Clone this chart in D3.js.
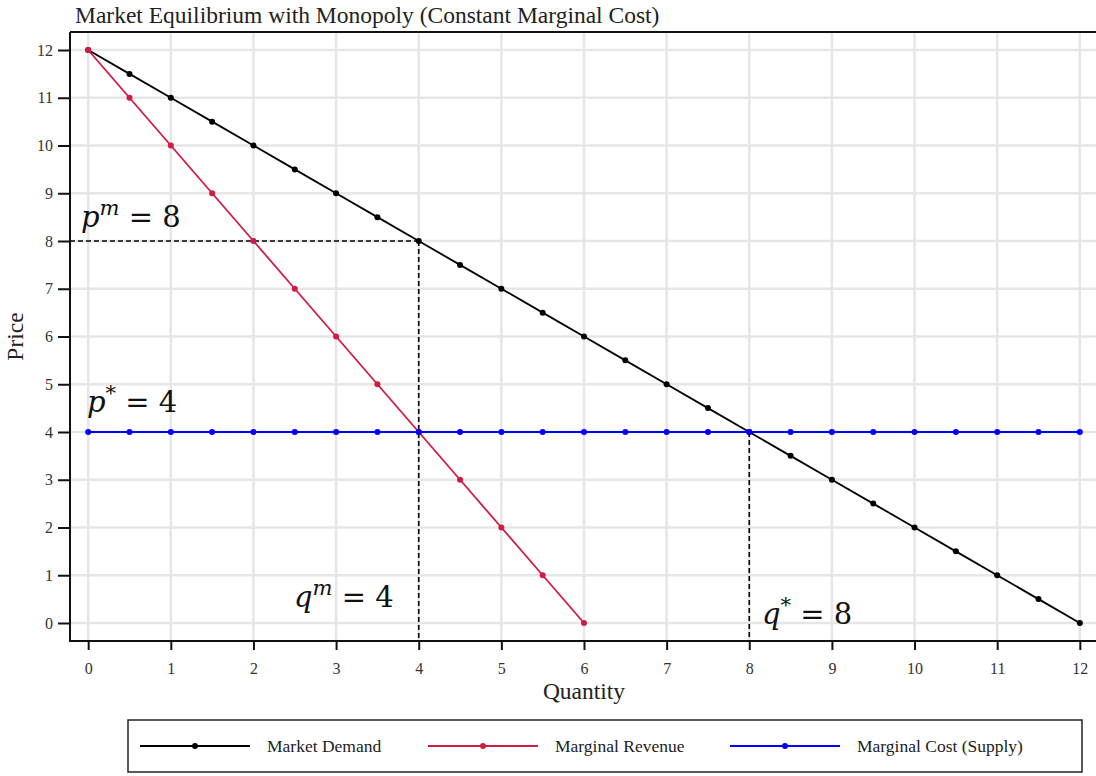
<!DOCTYPE html>
<html>
<head>
<meta charset="utf-8">
<script src="https://cdn.jsdelivr.net/npm/d3@7"></script>
<style>
  body { margin: 0; background: #fff; }
  text { font-family: "Liberation Serif", "Times New Roman", serif; }
</style>
</head>
<body>
<svg id="chart" width="1096" height="776"></svg>
<script>
// data
const quantity = [0, 0.5, 1, 1.5, 2, 2.5, 3, 3.5, 4, 4.5, 5, 5.5, 6, 6.5, 7, 7.5, 8, 8.5, 9, 9.5, 10, 10.5, 11, 11.5, 12];
const demand = [12, 11.5, 11, 10.5, 10, 9.5, 9, 8.5, 8, 7.5, 7, 6.5, 6, 5.5, 5, 4.5, 4, 3.5, 3, 2.5, 2, 1.5, 1, 0.5, 0];
const mrQuantity = [0, 0.5, 1, 1.5, 2, 2.5, 3, 3.5, 4, 4.5, 5, 5.5, 6];
const marginalRevenue = [12, 11, 10, 9, 8, 7, 6, 5, 4, 3, 2, 1, 0];
const marginalCost = [4, 4, 4, 4, 4, 4, 4, 4, 4, 4, 4, 4, 4, 4, 4, 4, 4, 4, 4, 4, 4, 4, 4, 4, 4];
const xTicks = [0, 1, 2, 3, 4, 5, 6, 7, 8, 9, 10, 11, 12];
const yTicks = [0, 1, 2, 3, 4, 5, 6, 7, 8, 9, 10, 11, 12];
const seriesNames = ["Market Demand", "Marginal Revenue", "Marginal Cost (Supply)"];
const seriesColors = ["#000000", "#d01c44", "#0000ff"];
const monopoly = { q: 4, p: 8 };
const competitive = { q: 8, p: 4 };

const svg = d3.select("#chart");
const plotLeft = 70, plotTop = 32, plotBottom = 641, plotRight = 1098;

const x = d3.scaleLinear().domain([-0.22, 12.22]).range([plotLeft, plotRight]);
const y = d3.scaleLinear().domain([-0.377, 12.377]).range([plotBottom, plotTop]);

// title
svg.append("text")
    .attr("x", 75).attr("y", 23)
    .style("font-size", "23.5px")
    .attr("fill", "#222")
    .text("Market Equilibrium with Monopoly (Constant Marginal Cost)");

// grid
let grid = svg.append("g");
grid.selectAll("line.v").data(xTicks).enter().append("line")
    .attr("class", "v")
    .attr("x1", d => x(d)).attr("x2", d => x(d))
    .attr("y1", plotTop).attr("y2", plotBottom)
    .style("stroke", "#e6e6e6").style("stroke-width", 2.5);
grid.selectAll("line.h").data(yTicks).enter().append("line")
    .attr("class", "h")
    .attr("x1", plotLeft).attr("x2", plotRight)
    .attr("y1", d => y(d)).attr("y2", d => y(d))
    .style("stroke", "#e6e6e6").style("stroke-width", 2.5);

// frame
svg.append("path")
    .attr("d", `M${plotLeft},${plotTop}H${plotRight}M${plotLeft},${plotTop}V${plotBottom}H${plotRight}`)
    .style("fill", "none").style("stroke", "#111").style("stroke-width", 2);

// axes
let xAxis = svg.append("g").attr("transform", `translate(0,${plotBottom})`)
    .call(d3.axisBottom(x).tickValues(xTicks).tickSize(9).tickPadding(13).tickFormat(d3.format("d")));
let yAxis = svg.append("g").attr("transform", `translate(${plotLeft},0)`)
    .call(d3.axisLeft(y).tickValues(yTicks).tickSize(12).tickPadding(5).tickFormat(d3.format("d")));
[xAxis, yAxis].forEach(a => {
    a.select(".domain").remove();
    a.selectAll(".tick line").style("stroke", "#111").style("stroke-width", 2);
    a.selectAll(".tick text").style("font-size", "16px").attr("fill", "#333")
        .style("font-family", "'Liberation Serif', serif");
});

svg.append("text")
    .attr("x", x(6)).attr("y", 699)
    .attr("text-anchor", "middle")
    .style("font-size", "23.5px").attr("fill", "#222")
    .text("Quantity");
svg.append("text")
    .attr("transform", `translate(23,${y(6)}) rotate(-90)`)
    .attr("text-anchor", "middle")
    .style("font-size", "23.5px").attr("fill", "#222")
    .text("Price");

// dashed guide lines
let dash = svg.append("g").style("stroke", "#000").style("stroke-width", 1.6)
    .style("stroke-dasharray", "5,3").style("fill", "none");
dash.append("line")
    .attr("x1", plotLeft).attr("x2", x(monopoly.q))
    .attr("y1", y(monopoly.p)).attr("y2", y(monopoly.p));
dash.append("line")
    .attr("x1", x(monopoly.q)).attr("x2", x(monopoly.q))
    .attr("y1", y(monopoly.p)).attr("y2", plotBottom);
dash.append("line")
    .attr("x1", x(competitive.q)).attr("x2", x(competitive.q))
    .attr("y1", y(competitive.p)).attr("y2", plotBottom);

// series
let series = [
    { xs: quantity, ys: demand },
    { xs: mrQuantity, ys: marginalRevenue },
    { xs: quantity, ys: marginalCost }
];
let line = d3.line().x(d => x(d[0])).y(d => y(d[1]));
for (let i = 0; i < series.length; i++) {
    let pts = series[i].xs.map((q, j) => [q, series[i].ys[j]]);
    let g = svg.append("g");
    g.append("path").datum(pts)
        .attr("d", line)
        .style("fill", "none")
        .style("stroke", seriesColors[i])
        .style("stroke-width", 1.8);
    g.selectAll("circle").data(pts).enter().append("circle")
        .attr("cx", d => x(d[0])).attr("cy", d => y(d[1]))
        .attr("r", 3)
        .style("fill", seriesColors[i]);
}

// math annotations
let labels = [
    { base: "p", sup: "m", rest: " = " + monopoly.p, x: 81, y: 227 },
    { base: "p", sup: "*", rest: " = " + competitive.p, x: 87, y: 412 },
    { base: "q", sup: "m", rest: " = " + monopoly.q, x: 294, y: 607 },
    { base: "q", sup: "*", rest: " = " + competitive.q, x: 762, y: 624 }
];
labels.forEach(l => {
    let t = svg.append("text")
        .attr("x", l.x).attr("y", l.y)
        .style("font-family", "'DejaVu Serif', serif")
        .style("font-size", "29px").attr("fill", "#111");
    t.append("tspan").style("font-style", "italic").text(l.base);
    t.append("tspan").attr("dy", -12).style("font-size", "21px")
        .style("font-style", l.sup === "*" ? "normal" : "italic").text(l.sup);
    t.append("tspan").attr("dy", 12).text(l.rest);
});

// legend
let lg = svg.append("g");
lg.append("rect")
    .attr("x", 128).attr("y", 720).attr("width", 954).attr("height", 52)
    .style("fill", "#fff").style("stroke", "#222").style("stroke-width", 1.5);
let legendX = [140, 428, 730];
for (let i = 0; i < seriesNames.length; i++) {
    lg.append("line")
        .attr("x1", legendX[i]).attr("x2", legendX[i] + 110)
        .attr("y1", 746).attr("y2", 746)
        .style("stroke", seriesColors[i]).style("stroke-width", 1.8);
    lg.append("circle")
        .attr("cx", legendX[i] + 55).attr("cy", 746).attr("r", 3)
        .style("fill", seriesColors[i]);
    lg.append("text")
        .attr("x", legendX[i] + 127).attr("y", 752)
        .style("font-size", "17.5px").attr("fill", "#222")
        .text(seriesNames[i]);
}
</script>
</body>
</html>
